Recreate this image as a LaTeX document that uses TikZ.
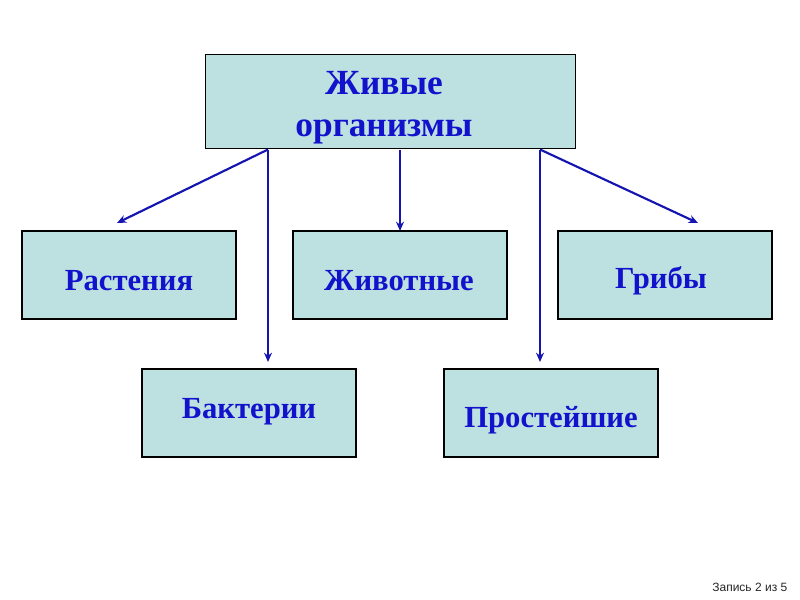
\documentclass[tikz,border=0pt]{standalone}
\usepackage{fontspec}
\setmainfont{Liberation Serif}
\newfontfamily\footfont{Liberation Sans}
\usetikzlibrary{arrows.meta}
\definecolor{boxfill}{HTML}{BDE0E1}
\definecolor{txtblue}{HTML}{1212CC}
\definecolor{arrblue}{HTML}{1414B0}
\tikzset{
  box/.style={draw=black, line width=0.8pt, fill=boxfill, minimum width=160.5pt, minimum height=66pt, inner sep=0pt},
  lbl/.style={inner sep=0pt, font=\bfseries\fontsize{23}{25}\selectfont, text=txtblue, align=center},
  conn/.style={draw=arrblue, line width=1.6pt, -{Stealth[length=7pt,width=6pt]}}
}
\begin{document}
\begin{tikzpicture}[x=0.75pt,y=-0.75pt]
\useasboundingbox (0,0) rectangle (800,600);
\node[box, minimum width=278pt, minimum height=71pt] (top) at (390.5,101.5) {};
\node[box] (rast) at (129,275) {};
\node[box] (zhiv) at (400,275) {};
\node[box] (grib) at (665,275) {};
\node[box] (bakt) at (249,413) {};
\node[box] (prost) at (551,413) {};
\node[lbl, font=\bfseries\fontsize{26.5}{31.5}\selectfont] (ttop) at (384,108) {Живые\\организмы};
\node[lbl] (trast) at (129,281) {Растения};
\node[lbl] (tzhiv) at (399,281) {Животные};
\node[lbl] (tgrib) at (661,281) {Грибы};
\node[lbl] (tbakt) at (249,412) {Бактерии};
\node[lbl] (tprost) at (551,420) {Простейшие};
\coordinate (tl) at (268,149.5);
\coordinate (tr) at (540,149.5);
\coordinate (tm) at (400,149.5);
\coordinate (e1) at (117,223);
\coordinate (e2) at (268,362);
\coordinate (e3) at (400,231);
\coordinate (e4) at (540,362);
\coordinate (e5) at (698,223);
\draw[conn] (tl) -- (e1);
\draw[conn] (tl) -- (e2);
\draw[conn] (tm) -- (e3);
\draw[conn] (tr) -- (e4);
\draw[conn] (tr) -- (e5);
\node[font=\footfont\fontsize{9}{10}\selectfont, text=black!85, anchor=east] (foot) at (792,587) {Запись 2 из 5};
\end{tikzpicture}
\end{document}
